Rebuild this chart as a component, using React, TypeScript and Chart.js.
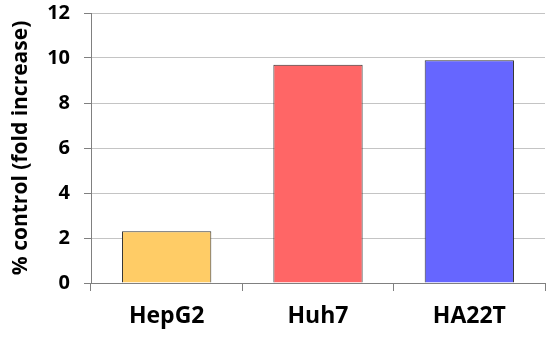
import React, { useEffect, useRef } from "react";
import { Chart, registerables } from "chart.js";

Chart.register(...registerables);

const categories = ["HepG2", "Huh7", "HA22T"];
const values = [2.3, 9.7, 9.9];
const barColors = ["#FFCC66", "#FF6666", "#6666FF"];
const yTitle = "% control (fold increase)";
const yMin = 0;
const yMax = 12;
const yStep = 2;

export default function App() {
  const ref = useRef<HTMLCanvasElement | null>(null);
  useEffect(() => {
    if (!ref.current) return;
    const font = "'Open Sans', sans-serif";
    const chart = new Chart(ref.current, {
      type: "bar",
      data: {
        labels: categories,
        datasets: [
          {
            data: values,
            backgroundColor: barColors,
            borderColor: "#333333",
            borderWidth: 1,
            categoryPercentage: 1,
            barPercentage: 0.59,
          },
        ],
      },
      options: {
        animation: false,
        responsive: false,
        maintainAspectRatio: false,
        layout: { padding: { top: 13, right: 5, left: 0, bottom: 0 } },
        plugins: { legend: { display: false }, tooltip: { enabled: false } },
        scales: {
          x: {
            offset: true,
            grid: {
              offset: true,
              drawOnChartArea: false,
              drawTicks: true,
              tickLength: 8,
              tickColor: "#808080",
            },
            border: { color: "#808080", width: 1 },
            ticks: {
              color: "#000",
              padding: 12,
              font: { family: font, size: 23, weight: "bold" },
            },
            afterFit: (s: any) => {
              s.height = 55;
              s.paddingLeft = 0;
              s.paddingRight = 0;
            },
          },
          y: {
            min: yMin,
            max: yMax,
            ticks: {
              stepSize: yStep,
              color: "#000",
              padding: 14,
              font: { family: font, size: 20, weight: "bold" },
            },
            grid: {
              color: "#c4c4c4",
              tickColor: "#808080",
              tickLength: 7,
              lineWidth: 1,
            },
            border: { color: "#808080", width: 1 },
            title: {
              display: true,
              text: yTitle,
              color: "#000",
              padding: { top: 8, bottom: 0 },
              font: { family: font, size: 21, weight: "bold" },
            },
            afterFit: (s: any) => {
              s.width = 91;
              s.paddingTop = 0;
              s.paddingBottom = 0;
            },
          },
        },
      },
    });
    return () => chart.destroy();
  }, []);
  return (
    <div style={{ position: "fixed", left: 0, top: 0, width: 550, height: 338, background: "#fff" }}>
      <canvas ref={ref} width={550} height={338} style={{ width: 550, height: 338 }} />
    </div>
  );
}
